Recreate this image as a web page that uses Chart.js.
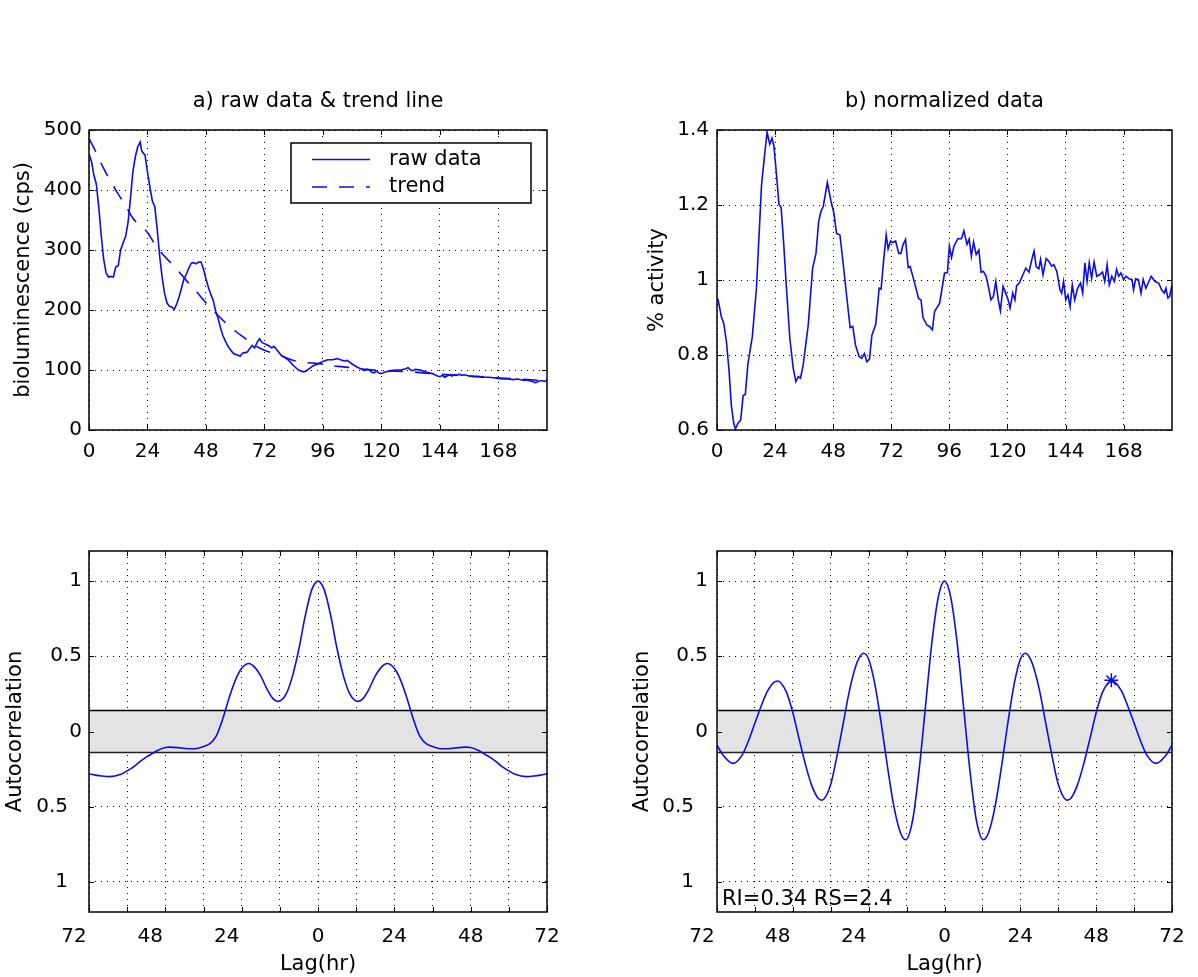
<!DOCTYPE html>
<html>
<head>
<meta charset="utf-8">
<script src="https://cdn.jsdelivr.net/npm/chart.js@4.4.1/dist/chart.umd.min.js"></script>
<style>
  html, body { margin: 0; padding: 0; background: #fff; }
  #fig { position: relative; width: 1198px; height: 977px; overflow: hidden; }
  #fig canvas { position: absolute; }
</style>
</head>
<body>
<div id="fig">
  <canvas id="rawChart" width="599" height="488" style="left:0px;top:0px;width:599px;height:488px"></canvas>
  <canvas id="normChart" width="599" height="488" style="left:599px;top:0px;width:599px;height:488px"></canvas>
  <canvas id="acfRawChart" width="599" height="489" style="left:0px;top:488px;width:599px;height:489px"></canvas>
  <canvas id="acfNormChart" width="599" height="489" style="left:599px;top:488px;width:599px;height:489px"></canvas>
</div>
<script>
// a) raw bioluminescence counts (hours, cps)
var rawHours = [0, 1, 2, 3, 4, 5, 6, 7, 8, 9, 10, 11, 12, 13, 14, 15, 16, 17, 18, 19, 20, 21, 21.6, 22, 23, 24, 25, 26, 27, 28, 29, 30,
  31, 32, 33, 34, 35, 36, 37, 38, 39, 40, 41, 42, 43, 44, 45, 46, 47, 48, 49, 50, 51, 52, 53, 54, 55, 56, 57, 58, 59, 60,
  61, 62, 63, 64, 65, 66, 67, 68, 69, 70, 71, 72, 73, 74, 75, 76, 77, 78, 79, 80, 82, 84, 86, 88, 89, 91, 92, 94, 96, 98,
  100, 102, 104, 105, 106, 108, 110, 111, 112, 113, 114, 115, 116, 117, 118, 119, 120, 121, 122, 124, 126, 128, 130, 131,
  132, 133, 134, 136, 138, 140, 141, 142, 143, 144, 145, 146, 147, 148, 149, 150, 151, 152, 153, 154, 156, 158, 160, 162,
  164, 166, 168, 170, 172, 174, 176, 178, 180, 182, 183, 184, 185, 186, 187, 188];
var rawCounts = [460, 448, 425, 410, 372, 325, 285, 262, 255, 256, 255, 272, 274, 300, 312, 322, 345, 385, 430, 455, 472, 480, 466, 463, 458, 430, 405, 382, 372, 335, 290, 255,
  228, 212, 206, 205, 201, 210, 222, 237, 252, 260, 270, 278, 279, 277, 280, 280, 268, 252, 238, 226, 216, 198, 186, 170, 157, 148, 140, 134, 129, 126,
  125, 123, 128, 129, 130, 136, 141, 137, 146, 152, 146, 144, 142, 140, 137, 139, 134, 129, 124, 122, 116, 107, 100, 97, 98, 104, 107, 110, 114, 117,
  117, 119, 116, 115, 116, 110, 105, 103, 101, 99, 101, 100, 96, 95, 98, 95, 94, 96, 97, 99, 100, 100, 102, 104,
  100, 99, 101, 100, 97, 95, 94, 92, 90, 89, 91, 88, 90, 92, 90, 92, 91, 93, 91, 92, 90, 89, 89, 88,
  88, 87, 86, 85, 85, 84, 85, 83, 83, 81, 79, 80, 82, 82, 81, 83];

var trendHours = [0, 3, 6, 9, 12, 15, 18, 21, 24, 27, 30, 33, 36, 40, 44, 48, 52, 56, 60, 64, 68, 72, 78, 84, 90, 96,
  102, 108, 114, 120, 132, 144, 156, 168, 180, 188];
var trendCounts = [486, 462, 436, 414, 393, 374, 353, 341, 329, 310, 294, 281, 268, 249, 231, 212, 195, 179, 165, 153, 141, 133, 125, 116, 112, 110,
  106, 104, 101, 99, 97, 93, 90, 87, 84, 82];

// b) normalized activity (raw / trend)
var normHours = [0.4, 1.8, 2.8, 3.9, 5.0, 5.9, 6.9, 7.6, 8.7, 9.8, 10.8, 11.7, 12.8, 14.6, 16.3, 18.4, 19.8, 20.7, 21.8, 22.7,
  23.5, 24.6, 25.6, 26.5, 27.6, 28.7, 30.1, 31.5, 32.6, 33.6, 34.5, 35.6, 37.7, 39.5, 40.9, 42.0, 43.0, 43.9, 45.6, 47.0,
  48.3, 49.4, 50.8, 52.2, 53.6, 55.0, 56.1, 57.2, 58.7, 59.8, 60.9, 61.9, 63.0, 64.0, 65.6, 67.0, 67.8, 68.8, 69.9, 70.7,
  71.7, 72.7, 73.8, 75.1, 76.0, 76.8, 77.9, 79.0, 79.8, 81.2, 83.3, 84.3, 85.1, 86.7, 87.8, 89.0, 89.9, 92.0, 94.0, 95.2,
  96.0, 96.9, 97.9, 99.5, 101.0, 102.0, 103.3, 104.2, 105.1, 106.0, 107.1, 108.2, 109.1, 110.1, 111.2, 112.4, 113.2, 114.2,
  115.2, 116.2, 117.1, 118.2, 119.3, 120.3, 121.1, 122.2, 123.1, 123.8, 124.9, 126.4, 127.6, 128.9, 129.9, 131.0, 131.9,
  133.0, 133.7, 134.7, 136.0, 137.1, 138.3, 139.2, 140.4, 141.7, 142.4, 143.2, 144.1, 145.0, 145.9, 146.8, 147.8, 149.0,
  150.2, 151.1, 152.0, 152.9, 153.8, 154.8, 155.8, 156.9, 158.1, 159.3, 160.2, 161.2, 162.1, 163.1, 164.2, 165.1, 166.0,
  166.9, 168.0, 169.0, 170.3, 171.5, 172.1, 173.0, 174.1, 175.2, 176.1, 177.2, 179.4, 181.0, 182.5, 183.7, 184.8, 185.5,
  186.3, 187.0, 188.0];
var normActivity = [0.949, 0.902, 0.884, 0.836, 0.756, 0.667, 0.618, 0.603, 0.618, 0.627, 0.692, 0.695, 0.778, 0.849, 0.978, 1.253, 1.342, 1.394, 1.362, 1.378,
  1.358, 1.28, 1.202, 1.193, 1.093, 0.978, 0.844, 0.764, 0.729, 0.742, 0.738, 0.773, 0.88, 1.031, 1.071, 1.156, 1.184, 1.196, 1.26, 1.213,
  1.178, 1.124, 1.12, 1.04, 0.956, 0.873, 0.876, 0.827, 0.796, 0.791, 0.804, 0.782, 0.789, 0.853, 0.882, 0.978, 0.976, 1.049, 1.12, 1.083,
  1.104, 1.1, 1.104, 1.071, 1.071, 1.093, 1.108, 1.033, 1.036, 1.003, 0.951, 0.947, 0.9, 0.88, 0.876, 0.867, 0.916, 0.938, 1.018, 1.02,
  1.09, 1.06, 1.09, 1.11, 1.11, 1.131, 1.095, 1.109, 1.064, 1.101, 1.068, 1.08, 1.021, 1.023, 1.01, 0.974, 0.947, 0.956,
  0.996, 0.947, 0.918, 0.983, 0.965, 0.947, 0.925, 0.965, 0.947, 0.985, 0.992, 1.014, 1.032, 1.021, 1.05, 1.077, 1.035,
  1.03, 1.055, 1.014, 1.057, 1.05, 1.037, 1.041, 1.023, 0.974, 0.965, 0.996, 0.947, 0.96, 0.929, 0.987, 0.947, 0.978,
  0.992, 0.965, 1.046, 0.996, 1.046, 1.005, 1.048, 1.01, 1.014, 1.021, 0.996, 1.041, 0.987, 1.01, 0.996, 1.028, 1.01,
  1.019, 1.001, 1.01, 1.003, 1.001, 0.974, 1.003, 1.001, 0.965, 1.001, 0.978, 1.01, 0.996, 0.992, 0.974, 0.965, 0.978,
  0.952, 0.956, 0.987];

// bottom row: autocorrelation of raw (left) and normalized (right) data
var acfRawLag = [-72, -70, -68, -65.4, -62, -60, -58, -56, -54, -52, -50, -48, -46.6, -44, -42, -40, -38, -36, -34, -32,
  -30, -28, -26, -24, -21.7, -20, -18, -16, -14, -12.6, -10, -8, -6, -4, -2, 0, 2, 4, 6, 8, 10, 12.6, 14, 16, 18, 20, 21.7,
  24, 26, 28, 30, 32, 34, 36, 38, 40, 42, 44, 46.6, 48, 50, 52, 54, 56, 58, 60, 62, 65.4, 68, 70, 72];
var acfRawValue = [-0.282, -0.29, -0.296, -0.30, -0.285, -0.262, -0.235, -0.20, -0.17, -0.145, -0.122, -0.107, -0.104, -0.107, -0.112, -0.115, -0.113, -0.10, -0.08, -0.03,
  0.08, 0.22, 0.34, 0.42, 0.452, 0.43, 0.37, 0.28, 0.215, 0.20, 0.25, 0.37, 0.55, 0.77, 0.94, 1.00, 0.94, 0.77, 0.55, 0.37, 0.25, 0.20, 0.215, 0.28, 0.37, 0.43, 0.452,
  0.42, 0.34, 0.22, 0.08, -0.03, -0.08, -0.10, -0.113, -0.115, -0.112, -0.107, -0.104, -0.107, -0.122, -0.145, -0.17, -0.20, -0.235, -0.262, -0.285, -0.30, -0.296, -0.29, -0.282];

var acfNormLag = [-72, -70, -67, -64, -62, -60, -58, -56, -54, -52.8, -50, -48, -46, -44, -42, -40, -38.9, -36, -34, -32, -30,
  -28, -27, -25.6, -24, -22, -20, -18, -16, -14, -12.3, -10, -8, -6, -4, -2, 0, 2, 4, 6, 8, 10, 12.3, 14, 16, 18, 20, 22,
  24, 25.6, 27, 28, 30, 32, 34, 36, 38.9, 40, 42, 44, 46, 48, 50, 52.8, 54, 56, 58, 60, 62, 64, 67, 70, 72];
var acfNormValue = [-0.09, -0.16, -0.212, -0.155, -0.06, 0.056, 0.17, 0.27, 0.326, 0.336, 0.26, 0.125, -0.05, -0.22, -0.36, -0.444, -0.456, -0.35, -0.16, 0.06, 0.28,
  0.44, 0.49, 0.52, 0.48, 0.31, 0.05, -0.24, -0.50, -0.67, -0.72, -0.58, -0.25, 0.17, 0.59, 0.89, 1.00, 0.89, 0.59, 0.17, -0.25, -0.58, -0.72, -0.67, -0.50, -0.24, 0.05, 0.31,
  0.48, 0.52, 0.49, 0.44, 0.28, 0.06, -0.16, -0.35, -0.456, -0.444, -0.36, -0.22, -0.05, 0.125, 0.26, 0.336, 0.326, 0.27, 0.17, 0.056, -0.06, -0.155, -0.212, -0.16, -0.09];

// rhythm index peak marked with a star
var peakLag = [52.8];
var peakValue = [0.34];
var noteText = 'RI=0.34 RS=2.4';

// significance band
var bandLag = [-72, 72];
var bandUpper = [0.14, 0.14];
var bandLower = [-0.14, -0.14];

var hourTicks = [0, 24, 48, 72, 96, 120, 144, 168];
var countTicks = [0, 100, 200, 300, 400, 500];
var activityTicks = [0.6, 0.8, 1, 1.2, 1.4];
var lagTicks = [-72, -60, -48, -36, -24, -12, 0, 12, 24, 36, 48, 60, 72];
var acfTicks = [-1, -0.5, 0, 0.5, 1];

var FONT = '"DejaVu Sans", "Liberation Sans", Arial, sans-serif';
var TICK_SIZE = 20;
var LABEL_SIZE = 21;
var BLUE = 'rgb(12, 12, 230)';

function points(xs, ys) {
  return xs.map(function(x, i) { return { x: x, y: ys[i] }; });
}

// matlab style box, inward ticks, panel title and note
var axesBox = {
  id: 'axesBox',
  afterDraw: function(chart, args, opts) {
    var ctx = chart.ctx, a = chart.chartArea;
    var xs = chart.scales.x, ys = chart.scales.y;
    ctx.save();
    ctx.strokeStyle = '#000';
    ctx.lineWidth = 1;
    ctx.beginPath();
    xs.ticks.forEach(function(t) {
      var px = Math.round(xs.getPixelForValue(t.value)) + 0.5;
      ctx.moveTo(px, a.bottom); ctx.lineTo(px, a.bottom - 5);
      ctx.moveTo(px, a.top); ctx.lineTo(px, a.top + 5);
    });
    ys.ticks.forEach(function(t) {
      var py = Math.round(ys.getPixelForValue(t.value)) + 0.5;
      ctx.moveTo(a.left, py); ctx.lineTo(a.left + 5, py);
      ctx.moveTo(a.right, py); ctx.lineTo(a.right - 5, py);
    });
    ctx.stroke();
    ctx.lineWidth = 1.5;
    ctx.strokeRect(a.left, a.top, a.right - a.left, a.bottom - a.top);
    ctx.fillStyle = '#000';
    ctx.font = LABEL_SIZE + 'px ' + FONT;
    if (opts.title) {
      ctx.textAlign = 'center';
      ctx.textBaseline = 'middle';
      ctx.fillText(opts.title, (a.left + a.right) / 2, a.top - 28);
    }
    if (opts.note) {
      ctx.textAlign = 'left';
      ctx.textBaseline = 'alphabetic';
      ctx.fillText(opts.note, a.left + 5, a.bottom - 7);
    }
    ctx.restore();
  }
};

// legend box inside the raw data axes
var insetLegend = {
  id: 'insetLegend',
  afterDraw: function(chart) {
    var ctx = chart.ctx, a = chart.chartArea;
    var left = a.left + 202, top = a.top + 13, w = 240, h = 60;
    ctx.save();
    ctx.fillStyle = '#fff';
    ctx.fillRect(left, top, w, h);
    ctx.strokeStyle = '#000';
    ctx.lineWidth = 1.5;
    ctx.strokeRect(left, top, w, h);
    chart.data.datasets.forEach(function(ds, i) {
      var y = top + 16.5 + i * 27.5;
      ctx.strokeStyle = ds.borderColor;
      ctx.lineWidth = ds.borderWidth;
      ctx.setLineDash(ds.borderDash || []);
      ctx.beginPath();
      ctx.moveTo(left + 21, y);
      ctx.lineTo(left + 79, y);
      ctx.stroke();
      ctx.setLineDash([]);
      ctx.fillStyle = '#000';
      ctx.font = LABEL_SIZE + 'px ' + FONT;
      ctx.textAlign = 'left';
      ctx.textBaseline = 'middle';
      ctx.fillText(ds.label, left + 98, y);
    });
    ctx.restore();
  }
};

function tickFont() { return { family: FONT, size: TICK_SIZE }; }
function labelFont() { return { family: FONT, size: LABEL_SIZE }; }

function gridLines() {
  return { color: '#000', lineWidth: 1, drawTicks: false };
}

function xAxis(min, max, tickValues, fmt, height, pad, title) {
  var axis = {
    type: 'linear', min: min, max: max,
    afterBuildTicks: function(s) { s.ticks = tickValues.map(function(v) { return { value: v }; }); },
    afterFit: function(s) { s.height = height; },
    ticks: { font: tickFont(), color: '#000', padding: pad, maxRotation: 0, autoSkip: false, callback: fmt },
    grid: gridLines(),
    border: { display: false, dash: [1, 5] }
  };
  if (title) {
    axis.title = { display: true, text: title, color: '#000', font: labelFont(), padding: { top: 0, bottom: 0 } };
  }
  return axis;
}

function yAxis(min, max, tickValues, fmt, width, pad, title, titlePad) {
  return {
    type: 'linear', min: min, max: max,
    afterBuildTicks: function(s) { s.ticks = tickValues.map(function(v) { return { value: v }; }); },
    afterFit: function(s) { s.width = width; },
    ticks: { font: tickFont(), color: '#000', padding: pad, autoSkip: false, callback: fmt },
    grid: gridLines(),
    border: { display: false, dash: [1, 5] },
    title: { display: true, text: title, color: '#000', font: labelFont(), padding: { top: titlePad, bottom: 0 } }
  };
}

function baseOptions(padding, scales, boxOpts) {
  return {
    responsive: false,
    animation: false,
    devicePixelRatio: 1,
    events: [],
    layout: { padding: padding },
    scales: scales,
    plugins: {
      legend: { display: false },
      tooltip: { enabled: false },
      filler: { drawTime: 'beforeDatasetsDraw' },
      axesBox: boxOpts
    }
  };
}

// the original figure drops the minus sign but keeps its room after the digits
var plain = function(v) { return String(v); };
var lagLabel = function(v) {
  if (v % 24 !== 0) return '';
  return v < 0 ? String(-v) + '\u2003\u2002' : String(v);
};
var acfLabel = function(v) {
  return v < 0 ? String(-v) + '\u2002\u2009' : String(v);
};

new Chart(document.getElementById('rawChart'), {
  type: 'line',
  data: {
    datasets: [
      { label: 'raw data', data: points(rawHours, rawCounts), borderColor: BLUE, borderWidth: 1.6, pointRadius: 0, tension: 0 },
      { label: 'trend', data: points(trendHours, trendCounts), borderColor: BLUE, borderWidth: 1.6, borderDash: [15, 12],
        pointRadius: 0, cubicInterpolationMode: 'monotone' }
    ]
  },
  options: baseOptions({ left: 0, top: 130, right: 52, bottom: 18 }, {
    x: xAxis(0, 188, hourTicks, plain, 40, 10),
    y: yAxis(0, 500, countTicks, plain, 89, 7, 'bioluminescence (cps)', 11)
  }, { title: 'a) raw data & trend line' }),
  plugins: [axesBox, insetLegend]
});

new Chart(document.getElementById('normChart'), {
  type: 'line',
  data: {
    datasets: [
      { label: 'normalized', data: points(normHours, normActivity), borderColor: BLUE, borderWidth: 1.6, pointRadius: 0, tension: 0 }
    ]
  },
  options: baseOptions({ left: 0, top: 130, right: 26, bottom: 18 }, {
    x: xAxis(0, 188, hourTicks, plain, 40, 10),
    y: yAxis(0.6, 1.4, activityTicks, plain, 118, 8, '% activity', 46)
  }, { title: 'b) normalized data' }),
  plugins: [axesBox]
});

function acfDatasets(lags, values, withPeak) {
  var sets = [
    { label: 'acf', data: points(lags, values), borderColor: BLUE, borderWidth: 1.6, pointRadius: 0,
      cubicInterpolationMode: 'monotone', order: 0 },
    { label: 'upper', data: points(bandLag, bandUpper), borderColor: '#000', borderWidth: 1.5, pointRadius: 0,
      backgroundColor: '#e3e3e3', fill: '+1', order: 1 },
    { label: 'lower', data: points(bandLag, bandLower), borderColor: '#222', borderWidth: 1.5, pointRadius: 0, order: 2 }
  ];
  if (withPeak) {
    sets.push({ label: 'peak', data: points(peakLag, peakValue), showLine: false, pointStyle: 'star', pointRadius: 7,
      pointBorderColor: BLUE, pointBackgroundColor: BLUE, pointBorderWidth: 1.5, borderColor: BLUE, order: -1 });
  }
  return sets;
}

new Chart(document.getElementById('acfRawChart'), {
  type: 'line',
  data: { datasets: acfDatasets(acfRawLag, acfRawValue, false) },
  options: baseOptions({ left: 0, top: 63, right: 52, bottom: 0 }, {
    x: xAxis(-72, 72, lagTicks, lagLabel, 65, 13, 'Lag(hr)'),
    y: yAxis(-1.2, 1.2, acfTicks, acfLabel, 89, 7, 'Autocorrelation', 3)
  }, {}),
  plugins: [axesBox]
});

new Chart(document.getElementById('acfNormChart'), {
  type: 'line',
  data: { datasets: acfDatasets(acfNormLag, acfNormValue, true) },
  options: baseOptions({ left: 0, top: 63, right: 26, bottom: 0 }, {
    x: xAxis(-72, 72, lagTicks, lagLabel, 65, 13, 'Lag(hr)'),
    y: yAxis(-1.2, 1.2, acfTicks, acfLabel, 118, 9, 'Autocorrelation', 31)
  }, { note: noteText }),
  plugins: [axesBox]
});
</script>
</body>
</html>
